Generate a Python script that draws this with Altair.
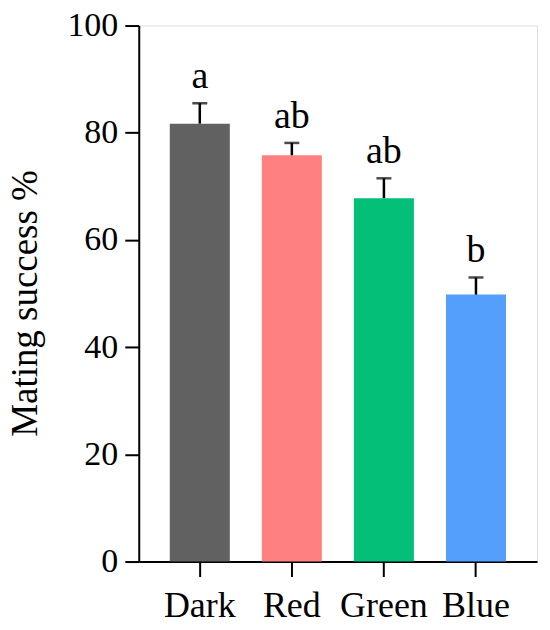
import altair as alt
import pandas as pd

groups = ["Dark", "Red", "Green", "Blue"]
means = [81.7, 75.8, 67.8, 49.8]
err_top = [85.5, 78.1, 71.5, 53.0]
letters = ["a", "ab", "ab", "b"]
colors = ["#616161", "#FF8080", "#04BF78", "#549EFC"]

df = pd.DataFrame({"group": groups, "mean": means, "top": err_top, "letter": letters})

FONT = "Liberation Serif"

x = alt.X("group:N", sort=groups, title=None,
          scale=alt.Scale(paddingInner=0.348, paddingOuter=0.337),
          axis=alt.Axis(labelAngle=0, labelFont=FONT, labelFontSize=36, labelColor="black",
                        tickSize=15, tickWidth=2, tickColor="black",
                        domainColor="black", domainWidth=2, labelPadding=12))
y_axis = alt.Axis(values=[0, 20, 40, 60, 80, 100], grid=False, labelFont=FONT, labelFontSize=34,
                  labelColor="black", tickSize=14, tickWidth=2, tickColor="black",
                  domainColor="black", domainWidth=2, labelPadding=7,
                  title="Mating success %", titleFont=FONT, titleFontSize=37,
                  titleFontWeight="normal", titleColor="black", titleAngle=-90,
                  titleX=-102, titleY=278, titleAlign="center", titleBaseline="alphabetic")
y = alt.Y("mean:Q", scale=alt.Scale(domain=[0, 100], nice=False), axis=y_axis)

base = alt.Chart(df)

bars = base.mark_bar().encode(
    x=x, y=y,
    color=alt.Color("group:N", sort=groups, scale=alt.Scale(domain=groups, range=colors), legend=None),
)
stem = base.mark_rule(color="black", strokeWidth=2.5).encode(x=x, y="mean:Q", y2="top:Q")
cap = base.mark_tick(color="black", thickness=2.5, size=15).encode(x=x, y="top:Q")
text = base.mark_text(font=FONT, fontSize=38, color="black", dy=-15, baseline="alphabetic").encode(
    x=x, y="top:Q", text="letter:N")

chart = alt.layer(bars, stem, cap, text).properties(
    width=399, height=537,
    autosize=alt.AutoSizeParams(type="none"),
    padding={"left": 131, "top": 17, "right": 5, "bottom": 64},
).configure_view(stroke=None).configure(background="white")

chart.save("out.html", embed_options={"renderer": "svg", "actions": False})
